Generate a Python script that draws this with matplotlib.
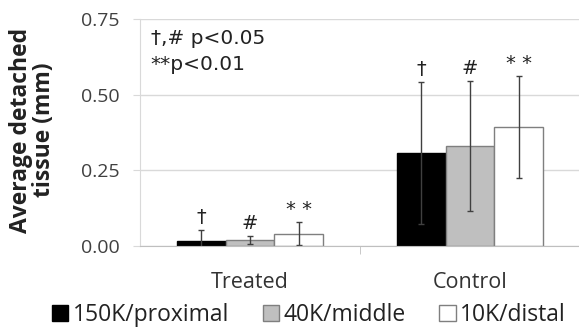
import matplotlib
matplotlib.use("Agg")
import matplotlib.pyplot as plt
import numpy as np
from matplotlib.patches import Patch

plt.rcParams['font.family'] = ['Open Sans', 'DejaVu Sans']

categories = ["Treated", "Control"]
series = ["150K/proximal", "40K/middle", "10K/distal"]
values = {
    "150K/proximal": [0.015, 0.308],
    "40K/middle": [0.021, 0.331],
    "10K/distal": [0.041, 0.394],
}
errors = {
    "150K/proximal": [0.038, 0.235],
    "40K/middle": [0.013, 0.215],
    "10K/distal": [0.039, 0.168],
}
marks = {
    "150K/proximal": ["†", "†"],
    "40K/middle": ["#", "#"],
    "10K/distal": ["* *", "* *"],
}
yticks = [0.00, 0.25, 0.50, 0.75]

fills = ["#000000", "#bfbfbf", "#ffffff"]
edges = ["#000000", "#7f7f7f", "#7f7f7f"]

fig = plt.figure(figsize=(5.79, 3.27), dpi=100)
ax = fig.add_axes([140/579, 1 - 246/327, 440/579, (246 - 19)/327])

x = np.arange(len(categories))
w = 0.222
for i, s in enumerate(series):
    pos = x + (i - 1) * w
    ax.bar(pos, values[s], width=w, color=fills[i], edgecolor=edges[i],
           linewidth=1.0, zorder=2)
    ax.errorbar(pos, values[s], yerr=errors[s], fmt='none', ecolor='#404040',
                elinewidth=1.0, capsize=2, capthick=1.0, zorder=3)
    for p, v, e, m in zip(pos, values[s], errors[s], marks[s]):
        ax.text(p, v + e + 0.01, m, ha='center', va='bottom', fontsize=14,
                color='#222222', family=['DejaVu Sans'], zorder=4)

ax.set_xlim(-0.5, 1.5)
ax.set_ylim(0, 0.75)
ax.set_yticks(yticks)
ax.set_yticklabels([f"{t:.2f}" for t in yticks], fontsize=14, color='#404040')
ax.set_xticks(x)
ax.set_xticklabels(categories, fontsize=15.5, color='#333333')
ax.tick_params(axis='x', length=0, pad=19)
ax.tick_params(axis='y', length=5, color='#d9d9d9', pad=9.5)
ax.set_xticks([0.5], minor=True)
ax.tick_params(axis='x', which='minor', length=6, color='#bfbfbf', direction='out')
ax.grid(axis='y', color='#d9d9d9', linewidth=1.0, zorder=0)
ax.set_axisbelow(True)
for sp in ['top', 'right']:
    ax.spines[sp].set_visible(False)
ax.spines['left'].set_color('#d9d9d9')
ax.spines['bottom'].set_color('#bfbfbf')
ax.spines['bottom'].set_zorder(5)

ax.set_ylabel("Average detached\ntissue (mm)", fontsize=16.5, fontweight='bold',
              color='#222222', linespacing=0.95)
ax.yaxis.set_label_coords(-0.191, 0.51)

ax.text(0.025, 0.916, "†,# p<0.05", transform=ax.transAxes, fontsize=14.5,
        va='center', color='#222222', family=['DejaVu Sans'])
ax.text(0.023, 0.80, "**p<0.01", transform=ax.transAxes, fontsize=14.5,
        va='center', color='#222222', family=['DejaVu Sans'])

handles = [Patch(facecolor=fills[i], edgecolor=edges[i], label=s) for i, s in enumerate(series)]
fig.legend(handles=handles, loc='center', bbox_to_anchor=(309/579, 1 - 315/327),
           ncol=3, frameon=False, fontsize=16.5, handlelength=0.72, handleheight=0.72,
           handletextpad=0.2, columnspacing=1.45, labelcolor='#222222',
           borderpad=0, borderaxespad=0)

fig.savefig("out.png", dpi=100)
